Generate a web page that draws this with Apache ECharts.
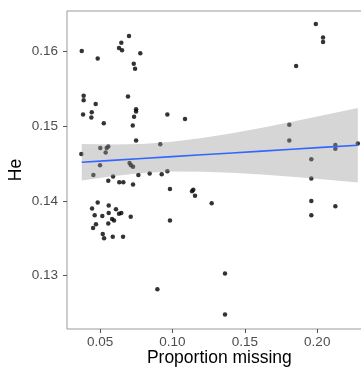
<!DOCTYPE html>
<html>
<head>
<meta charset="utf-8">
<script src="https://cdn.jsdelivr.net/npm/echarts@6/dist/echarts.min.js"></script>
<style>
html,body{margin:0;padding:0;background:#fff;}
#chart{width:361px;height:371px;}
</style>
</head>
<body>
<div id="chart"></div>
<script>
// ---- data ----
const xTicks = [0.05, 0.10, 0.15, 0.20];
const yTicks = [0.13, 0.14, 0.15, 0.16];

const propMissing = [
  0.0374, 0.0484, 0.0700, 0.0647, 0.0631, 0.0652, 0.0778, 0.0733, 0.0742, 0.0387,
  0.0387, 0.0470, 0.0693, 0.0443, 0.0440, 0.0383, 0.0749, 0.0749, 0.0735, 0.0965,
  0.1087, 0.0526, 0.0726, 0.0749, 0.0916, 0.0557, 0.0546, 0.0502, 0.0539, 0.0371,
  0.0500, 0.0704, 0.0714, 0.0728, 0.0454, 0.0590, 0.0557, 0.0633, 0.0661, 0.0728,
  0.0765, 0.0843, 0.0926, 0.0965, 0.0983, 0.1144, 0.1135, 0.1156, 0.0484, 0.0445,
  0.0560, 0.0463, 0.0516, 0.0560, 0.0610, 0.0631, 0.0647, 0.0712, 0.0583, 0.0597,
  0.0557, 0.0472, 0.0452, 0.0983, 0.0519, 0.0528, 0.0588, 0.0659, 0.0896, 0.1271,
  0.1990, 0.2040, 0.2040, 0.1854, 0.1807, 0.1807, 0.2125, 0.2125, 0.2280, 0.1959,
  0.1959, 0.1959, 0.2125, 0.1959, 0.1363, 0.1363
];
const he = [
  0.1601, 0.1591, 0.1621, 0.1612, 0.1605, 0.1602, 0.1598, 0.1584, 0.1577, 0.1541,
  0.1535, 0.1530, 0.1540, 0.1519, 0.1512, 0.1516, 0.1523, 0.1520, 0.1513, 0.1516,
  0.1510, 0.1504, 0.1501, 0.1481, 0.1476, 0.1473, 0.1471, 0.1471, 0.1465, 0.1463,
  0.1448, 0.1451, 0.1448, 0.1446, 0.1435, 0.1433, 0.1427, 0.1425, 0.1425, 0.1422,
  0.1435, 0.1437, 0.1436, 0.1440, 0.1416, 0.1415, 0.1413, 0.1407, 0.1398, 0.1390,
  0.1394, 0.1381, 0.1380, 0.1384, 0.1389, 0.1383, 0.1384, 0.1379, 0.1376, 0.1374,
  0.1370, 0.1369, 0.1364, 0.1374, 0.1356, 0.1350, 0.1352, 0.1352, 0.1282, 0.1397,
  0.1637, 0.1619, 0.1613, 0.1581, 0.1502, 0.1481, 0.1475, 0.1470, 0.1477, 0.1456,
  0.1430, 0.1400, 0.1393, 0.1381, 0.1303, 0.1248
];

// fitted line and confidence band, read at sample positions
const fitX     = [0.0374, 0.0583, 0.0790, 0.0997, 0.1204, 0.1412, 0.1619, 0.1826, 0.2033, 0.2280];
const fitY     = [0.14519, 0.14545, 0.14569, 0.14594, 0.14619, 0.14643, 0.14668, 0.14693, 0.14718, 0.14747];
const fitUpper = [0.14765, 0.14756, 0.14764, 0.14794, 0.14844, 0.14909, 0.14983, 0.15062, 0.15144, 0.15245];
const fitLower = [0.14274, 0.14333, 0.14374, 0.14394, 0.14393, 0.14378, 0.14354, 0.14324, 0.14291, 0.14249];

// ---- chart ----
const chart = echarts.init(document.getElementById('chart'), null, {renderer: 'canvas'});
const FONT = '"Liberation Sans", Arial, Helvetica, sans-serif';

const option = {
  animation: false,
  backgroundColor: '#ffffff',
  grid: {
    left: 67, top: 11, width: 304.7, height: 318,
    outerBoundsMode: 'none',
    containLabel: false,
    show: true, borderColor: '#9a9a9a', borderWidth: 1, backgroundColor: 'transparent'
  },
  xAxis: {
    type: 'value',
    min: 0.0272, max: 0.2376,
    name: 'Proportion missing',
    nameLocation: 'middle',
    nameGap: 20,
    nameMoveOverlap: false,
    nameTextStyle: {color: '#000', fontSize: 17.5, fontFamily: FONT},
    axisLine: {show: false},
    splitLine: {show: false},
    axisTick: {show: true, length: 4, lineStyle: {color: '#555'}, customValues: xTicks},
    axisLabel: {
      color: '#4d4d4d', fontSize: 13.5, fontFamily: FONT, margin: 6,
      customValues: xTicks,
      formatter: v => v.toFixed(2)
    }
  },
  yAxis: {
    type: 'value',
    min: 0.12286, max: 0.16545,
    name: 'He',
    nameLocation: 'middle',
    nameGap: 42,
    nameMoveOverlap: false,
    nameRotate: 90,
    nameTextStyle: {color: '#000', fontSize: 17.5, fontFamily: FONT},
    axisLine: {show: false},
    splitLine: {show: false},
    axisTick: {show: true, length: 4, lineStyle: {color: '#555'}, customValues: yTicks},
    axisLabel: {
      color: '#4d4d4d', fontSize: 13.5, fontFamily: FONT, margin: 9,
      customValues: yTicks,
      formatter: v => v.toFixed(2)
    }
  },
  series: [
    {
      type: 'scatter',
      data: propMissing.map((x, i) => [x, he[i]]),
      symbol: 'circle',
      symbolSize: 4.5,
      itemStyle: {color: '#000'},
      z: 2
    },
    {
      type: 'custom',
      data: [0],
      z: 3,
      renderItem: function (params, api) {
        const pts = [];
        for (let i = 0; i < fitX.length; i++) pts.push(api.coord([fitX[i], fitUpper[i]]));
        for (let i = fitX.length - 1; i >= 0; i--) pts.push(api.coord([fitX[i], fitLower[i]]));
        return {
          type: 'polygon',
          shape: {points: pts},
          style: {fill: 'rgba(153,153,153,0.4)', stroke: null}
        };
      }
    },
    {
      type: 'line',
      data: fitX.map((x, i) => [x, fitY[i]]),
      showSymbol: false,
      lineStyle: {color: '#3366ff', width: 1.6},
      z: 4
    }
  ]
};
chart.setOption(option);
</script>
</body>
</html>
